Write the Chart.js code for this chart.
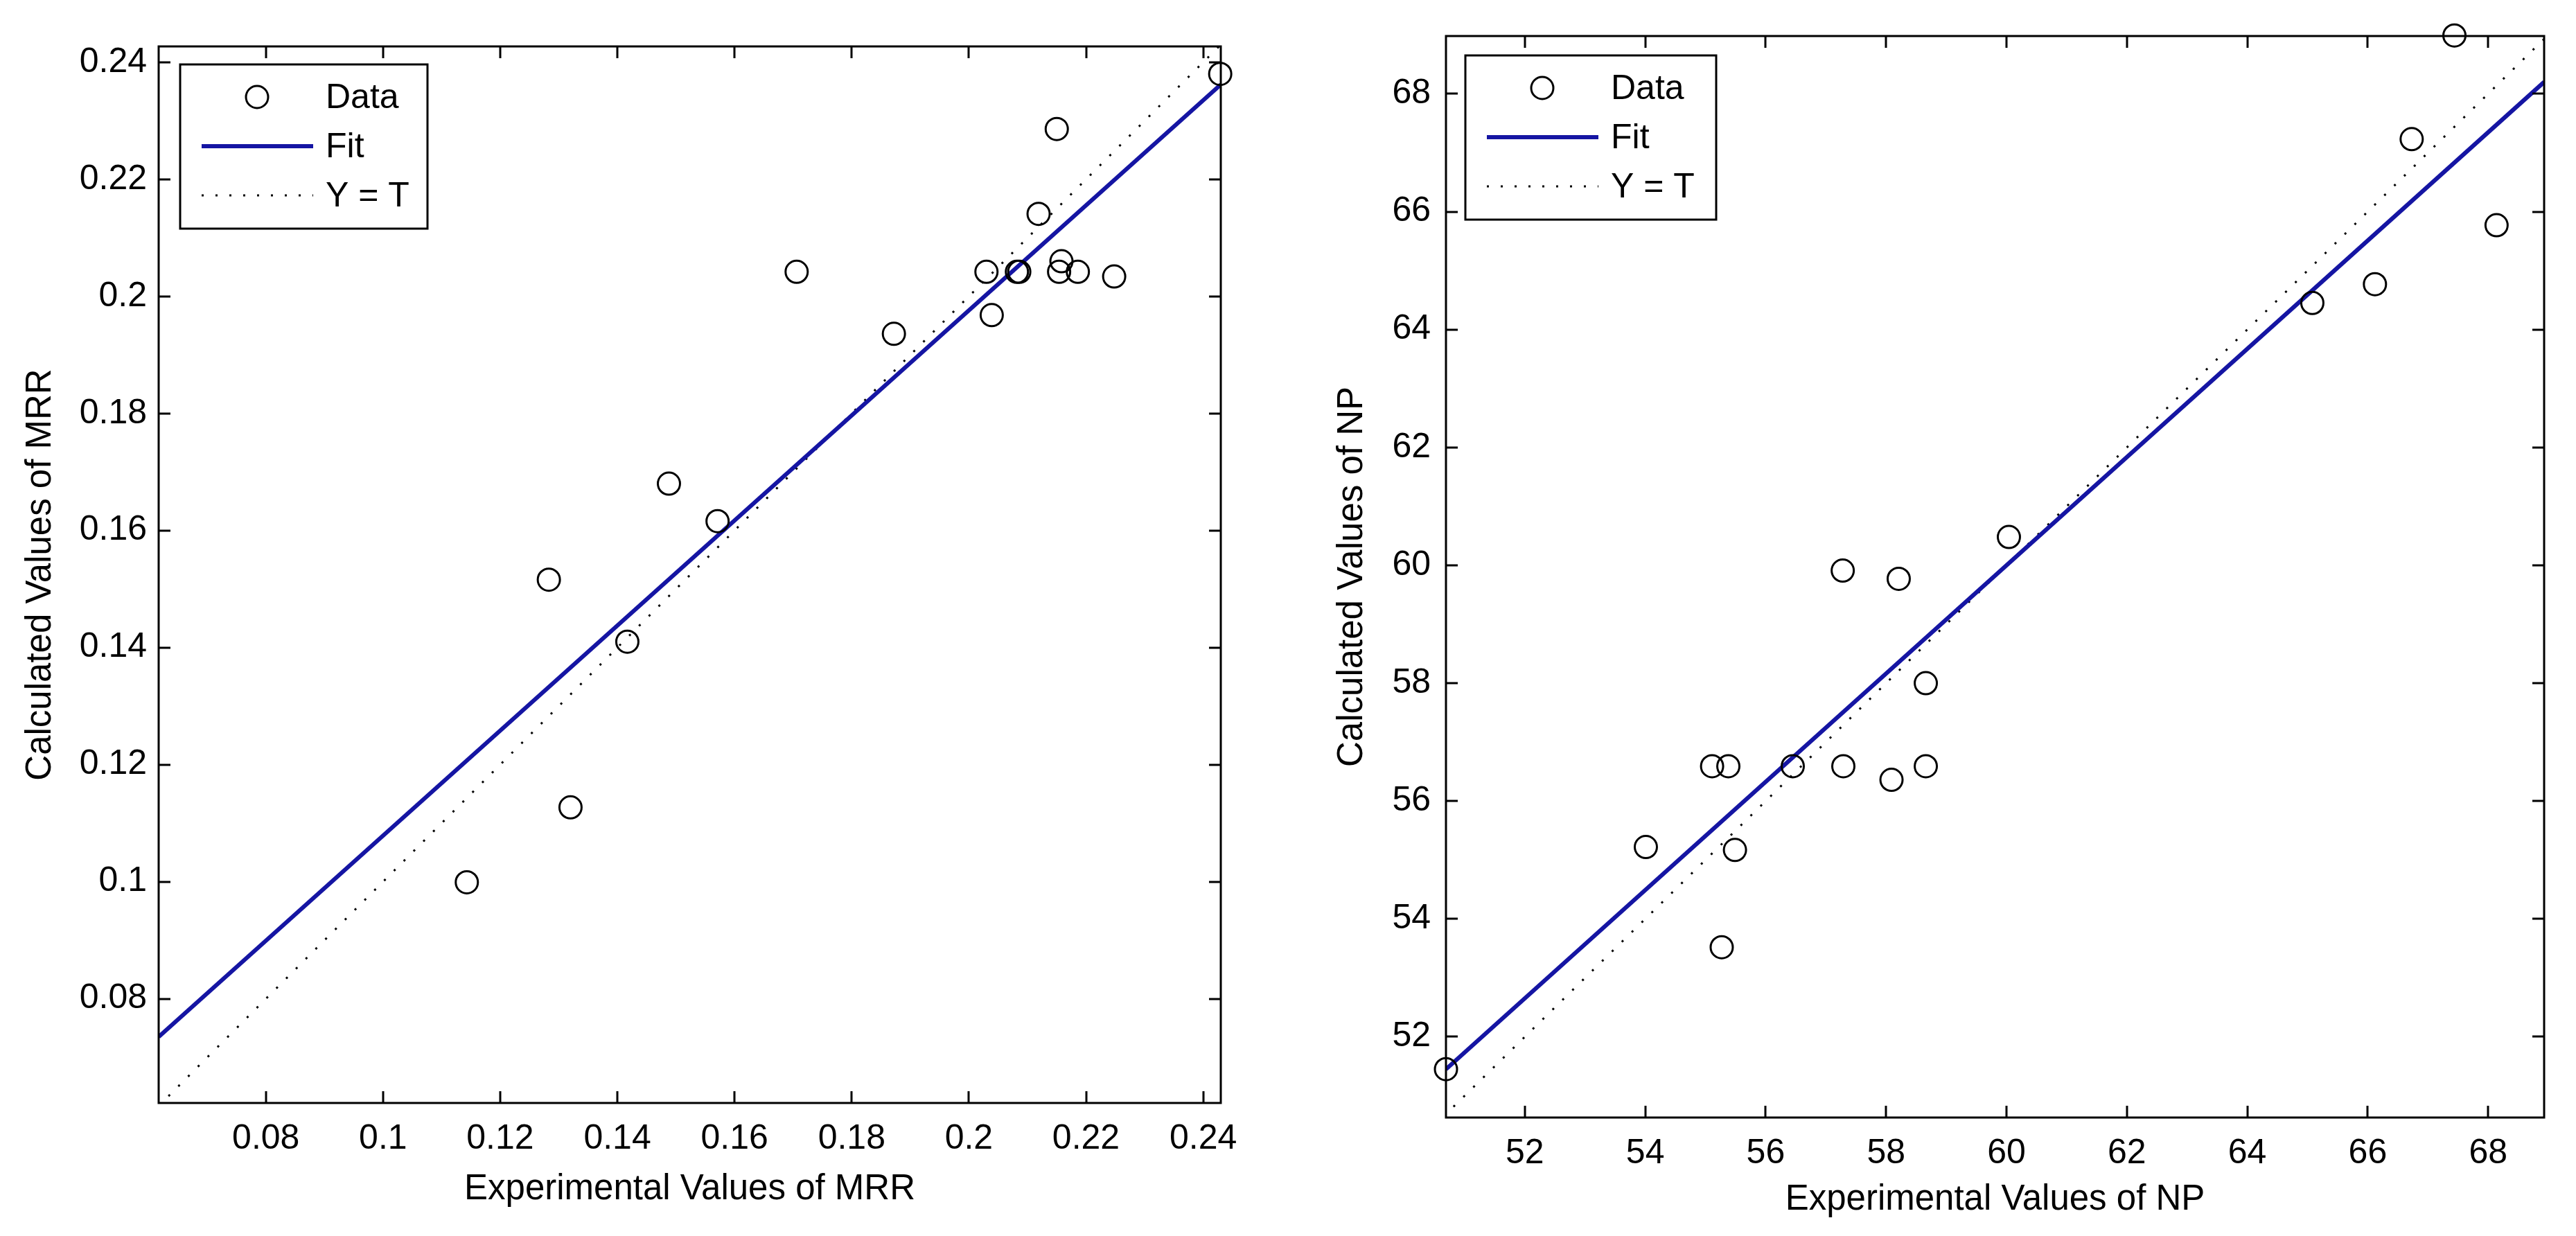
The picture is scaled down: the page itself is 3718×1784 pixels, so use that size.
<!DOCTYPE html>
<html>
<head>
<meta charset="utf-8">
<script src="https://cdn.jsdelivr.net/npm/chart.js@4.4.1/dist/chart.umd.min.js"></script>
<style>
  html, body { margin: 0; padding: 0; background: #fff; }
  body { width: 3718px; height: 1784px; position: relative; overflow: hidden; }
  .panel { position: absolute; top: 0; height: 1784px; }
  #panelMRR { left: 0; width: 1860px; }
  #panelNP { left: 1860px; width: 1858px; }
</style>
</head>
<body>
<div class="panel" id="panelMRR"><canvas id="chartMRR" width="1860" height="1784"></canvas></div>
<div class="panel" id="panelNP"><canvas id="chartNP" width="1858" height="1784"></canvas></div>
<script>
'use strict'

// MRR panel
const mrrExperimental = [0.2429, 0.2150, 0.2119, 0.1706, 0.2030, 0.2082, 0.2086, 0.2158, 0.2154, 0.2186, 0.2248, 0.2039, 0.1872, 0.1488, 0.1571, 0.1283, 0.1417, 0.1320, 0.1143];
const mrrCalculated = [0.2380, 0.2286, 0.2141, 0.2042, 0.2042, 0.2042, 0.2042, 0.2060, 0.2042, 0.2042, 0.2034, 0.1968, 0.1936, 0.1680, 0.1616, 0.1516, 0.1410, 0.1127, 0.0999];
const mrrFitX = [0.0617, 0.2430];
const mrrFitY = [0.0735, 0.2362];
const mrrIdentity = [0.0617, 0.2430];
const mrrTicks = [0.08, 0.10, 0.12, 0.14, 0.16, 0.18, 0.20, 0.22, 0.24];

// NP panel
const npExperimental = [67.44, 66.73, 68.14, 66.12, 65.08, 60.04, 57.28, 58.21, 58.66, 55.11, 55.38, 56.45, 57.29, 58.09, 58.66, 54.01, 55.49, 55.27, 50.69];
const npCalculated = [68.99, 67.23, 65.77, 64.77, 64.45, 60.48, 59.91, 59.77, 58.00, 56.59, 56.59, 56.59, 56.59, 56.36, 56.59, 55.22, 55.17, 53.52, 51.45];
const npFitX = [50.69, 68.93];
const npFitY = [51.45, 68.20];
const npIdentity = [50.65, 68.95];
const npTicks = [52, 54, 56, 58, 60, 62, 64, 66, 68];

const legendLabels = ['Data', 'Fit', 'Y = T'];
const FONT = '"Liberation Sans", Arial, sans-serif';
const BLUE = '#1515a3';

function toPoints(xs, ys){
	return xs.map((x, i) => ({x: x, y: ys[i]}));
}

// axes box with inward ticks, like the original figure
const boxPlugin = {
	id: 'matlabBox',
	afterDatasetsDraw(chart){
		const {ctx, chartArea: a, scales} = chart;
		const len = 17;
		ctx.save();
		ctx.strokeStyle = '#000';
		ctx.lineWidth = 3;
		ctx.strokeRect(a.left, a.top, a.right - a.left, a.bottom - a.top);
		ctx.beginPath();
		scales.x.ticks.forEach(t => {
			const px = Math.round(scales.x.getPixelForValue(t.value));
			ctx.moveTo(px, a.bottom); ctx.lineTo(px, a.bottom - len);
			ctx.moveTo(px, a.top); ctx.lineTo(px, a.top + len);
		});
		scales.y.ticks.forEach(t => {
			const py = Math.round(scales.y.getPixelForValue(t.value));
			ctx.moveTo(a.left, py); ctx.lineTo(a.left + len, py);
			ctx.moveTo(a.right, py); ctx.lineTo(a.right - len, py);
		});
		ctx.stroke();
		ctx.restore();
	},
	afterDraw(chart, args, opts){
		const {ctx, chartArea: a} = chart;
		const x0 = a.left + opts.offsetX;
		const y0 = a.top + opts.offsetY;
		ctx.save();
		ctx.fillStyle = '#fff';
		ctx.fillRect(x0, y0, opts.width, opts.height);
		ctx.strokeStyle = '#000';
		ctx.lineWidth = 3;
		ctx.strokeRect(x0, y0, opts.width, opts.height);
		ctx.font = '50px ' + FONT;
		ctx.textBaseline = 'middle';
		ctx.textAlign = 'left';
		chart.data.datasets.forEach((ds, i) => {
			const ry = y0 + 47 + i * 71;
			ctx.save();
			ctx.strokeStyle = ds.borderColor;
			ctx.lineWidth = ds.borderWidth;
			if(ds.showLine){
				ctx.setLineDash(ds.borderDash || []);
				ctx.beginPath();
				ctx.moveTo(x0 + 31, ry);
				ctx.lineTo(x0 + 192, ry);
				ctx.stroke();
			}
			else {
				ctx.beginPath();
				ctx.arc(x0 + 111, ry, ds.pointRadius, 0, Math.PI * 2);
				ctx.stroke();
			}
			ctx.restore();
			ctx.fillStyle = '#000';
			ctx.fillText(ds.label, x0 + 210, ry + 2);
		});
		ctx.restore();
	},
};

function makeChart(id, cfg){
	const tickFmt = v => String(Number(v.toFixed(2)));
	const tickFont = {family: FONT, size: 50};
	return new Chart(document.getElementById(id), {
		type: 'scatter',
		data: {
			datasets: [
				{
					label: legendLabels[0],
					data: toPoints(cfg.xData, cfg.yData),
					showLine: false,
					pointStyle: 'circle',
					pointRadius: 16,
					pointBorderWidth: 3,
					borderWidth: 3,
					borderColor: '#000',
					pointBackgroundColor: 'rgba(0,0,0,0)',
					backgroundColor: 'rgba(0,0,0,0)',
					clip: false,
					order: 0,
				},
				{
					label: legendLabels[1],
					data: toPoints(cfg.fitX, cfg.fitY),
					showLine: true,
					pointRadius: 0,
					borderColor: BLUE,
					borderWidth: 6,
					order: 1,
				},
				{
					label: legendLabels[2],
					data: toPoints(cfg.identity, cfg.identity),
					showLine: true,
					pointRadius: 0,
					borderColor: '#000',
					borderWidth: 3,
					borderDash: [3, 17],
					order: 2,
				},
			],
		},
		options: {
			responsive: false,
			animation: false,
			layout: {padding: cfg.padding},
			plugins: {
				legend: {display: false},
				tooltip: {enabled: false},
				matlabBox: cfg.legendBox,
			},
			scales: {
				x: {
					type: 'linear',
					min: cfg.xMin,
					max: cfg.xMax,
					afterBuildTicks: s => { s.ticks = cfg.ticks.map(v => ({value: v})); },
					afterFit: s => { s.height = cfg.xAxisHeight; },
					grid: {display: false, drawTicks: false},
					border: {display: false},
					ticks: {padding: cfg.xTickPad, color: '#000', font: tickFont, callback: tickFmt, maxRotation: 0, autoSkip: false},
					title: {display: true, text: cfg.xTitle, color: '#000', font: {family: FONT, size: 51}, padding: {top: 0, bottom: cfg.xTitlePad}},
				},
				y: {
					type: 'linear',
					min: cfg.yMin,
					max: cfg.yMax,
					afterBuildTicks: s => { s.ticks = cfg.ticks.map(v => ({value: v})); },
					afterFit: s => { s.width = cfg.yAxisWidth; },
					grid: {display: false, drawTicks: false},
					border: {display: false},
					ticks: {padding: cfg.yTickPad, color: '#000', font: tickFont, callback: tickFmt, autoSkip: false},
					title: {display: true, text: cfg.yTitle, color: '#000', font: {family: FONT, size: 51}, padding: {top: cfg.yTitlePad, bottom: 0}},
				},
			},
		},
		plugins: [boxPlugin],
	});
}

makeChart('chartMRR', {
	xData: mrrExperimental, yData: mrrCalculated,
	fitX: mrrFitX, fitY: mrrFitY, identity: mrrIdentity,
	ticks: mrrTicks,
	xMin: 0.0617, xMax: 0.2430, yMin: 0.0622, yMax: 0.2427,
	padding: {left: 0, top: 67, right: 98, bottom: 0},
	xAxisHeight: 192, yAxisWidth: 229,
	xTickPad: 22, yTickPad: 17, xTitlePad: 36, yTitlePad: 28,
	xTitle: 'Experimental Values of MRR',
	yTitle: 'Calculated Values of MRR',
	legendBox: {offsetX: 31, offsetY: 26, width: 357, height: 237},
});

makeChart('chartNP', {
	xData: npExperimental, yData: npCalculated,
	fitX: npFitX, fitY: npFitY, identity: npIdentity,
	ticks: npTicks,
	xMin: 50.69, xMax: 68.93, yMin: 50.63, yMax: 68.98,
	padding: {left: 0, top: 43, right: 46, bottom: 0},
	xAxisHeight: 171, yAxisWidth: 227,
	xTickPad: 22, yTickPad: 22, xTitlePad: 21, yTitlePad: 61,
	xTitle: 'Experimental Values of NP',
	yTitle: 'Calculated Values of NP',
	legendBox: {offsetX: 28, offsetY: 28, width: 362, height: 237},
});
</script>
</body>
</html>
